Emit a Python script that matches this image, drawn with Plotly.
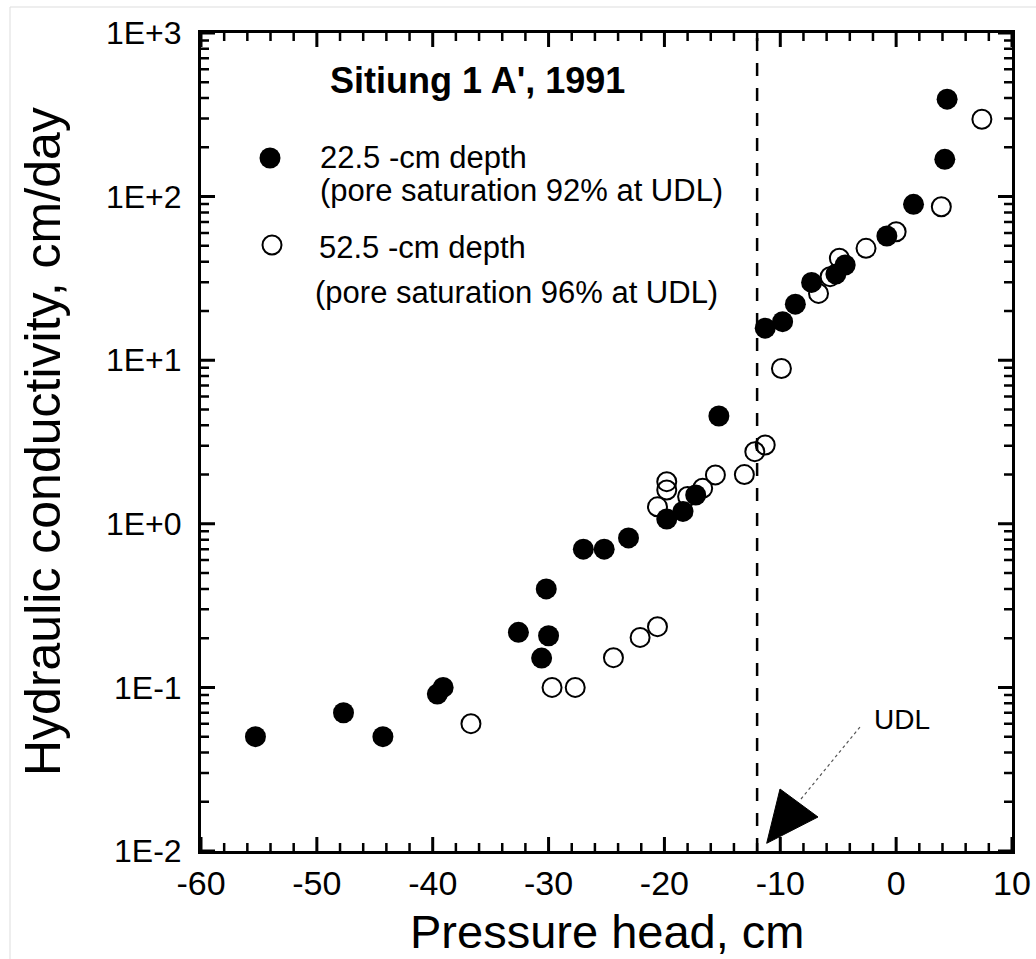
import math
import plotly.graph_objects as go

# 22.5-cm depth (filled circles)
x_225 = [-55.3, -47.7, -44.3, -39.6, -39.1, -32.6, -30.6, -30.2, -30.0, -27.0, -25.2, -23.1,
         -19.8, -18.4, -17.3, -15.3, -11.3, -9.8, -8.7, -7.3, -5.2, -4.4, -0.8, 1.5, 4.2, 4.4]
k_225 = [0.050, 0.070, 0.050, 0.091, 0.100, 0.217, 0.151, 0.40, 0.207, 0.70, 0.70, 0.82,
         1.07, 1.19, 1.50, 4.56, 15.7, 17.2, 22.0, 29.9, 33.6, 38.2, 57.4, 89.7, 169, 394]

# 52.5-cm depth (open circles)
x_525 = [-36.7, -29.7, -27.7, -24.4, -22.1, -20.6, -20.6, -19.8, -19.8, -18.0, -16.7, -15.6,
         -13.1, -12.2, -11.3, -9.9, -6.7, -5.7, -4.9, -2.6, 0.0, 3.9, 7.4]
k_525 = [0.060, 0.10, 0.10, 0.152, 0.202, 0.235, 1.27, 1.81, 1.61, 1.47, 1.65, 1.99,
         2.0, 2.76, 3.03, 8.9, 25.6, 32.4, 42.0, 48.3, 61.0, 86.7, 297]

udl_x = -12
x_ticks = [-60, -50, -40, -30, -20, -10, 0, 10]
x_ticktext = ["-60", "-50", "-40", "-30", "-20", "-10", "0", "10"]
x_minor_ticks = [v for v in range(-60, 11, 2) if v % 10 != 0]
y_ticks = [0.01, 0.1, 1, 10, 100, 1000]
y_ticktext = ["1E-2", "1E-1", "1E+0", "1E+1", "1E+2", "1E+3"]
y_minor_ticks = [m * d for d in [0.01, 0.1, 1, 10, 100] for m in range(2, 10)]

X_RANGE = [-60, 10]
Y_RANGE_LOG = [-2, 3]

FONT = "Arial, Liberation Sans, sans-serif"

W, H = 1036, 959
L, R, T, B = 201, 1012, 33, 851


def px(xp):
    return (xp - L) / (R - L)


def py(yp):
    return (B - yp) / (B - T)


def xfrac(v):
    return (v - X_RANGE[0]) / (X_RANGE[1] - X_RANGE[0])


def yfrac(v):
    return (math.log10(v) - Y_RANGE_LOG[0]) / (Y_RANGE_LOG[1] - Y_RANGE_LOG[0])


fig = go.Figure()
fig.add_trace(go.Scatter(x=x_225, y=k_225, mode="markers", name="22.5 -cm depth",
                         marker=dict(symbol="circle", size=21, color="black",
                                     line=dict(width=0)), showlegend=False))
fig.add_trace(go.Scatter(x=x_525, y=k_525, mode="markers", name="52.5 -cm depth",
                         marker=dict(symbol="circle-open", size=19, color="black",
                                     line=dict(width=2)), showlegend=False))

# tick marks (inside, on all four sides) drawn as paper-space paths
tick_paths = []
PW, PH = R - L, B - T
for vals, ln in [(x_ticks, 14), (x_minor_ticks, 8)]:
    d = ""
    for v in vals:
        f = xfrac(v)
        d += f"M{f},0 L{f},{ln / PH} M{f},1 L{f},{1 - ln / PH} "
    tick_paths.append((d, 3 if ln == 14 else 2.5))
for vals, ln in [(y_ticks, 14), (y_minor_ticks, 8)]:
    d = ""
    for v in vals:
        f = yfrac(v)
        d += f"M0,{f} L{ln / PW},{f} M1,{f} L{1 - ln / PW},{f} "
    tick_paths.append((d, 3 if ln == 14 else 2.5))

shapes = [dict(type="path", xref="paper", yref="paper", path=d.strip(),
               line=dict(color="black", width=w)) for d, w in tick_paths]

shapes += [
    dict(type="line", xref="x", yref="paper", x0=udl_x, x1=udl_x, y0=0, y1=1,
         line=dict(color="black", width=2.5, dash="13px,12px")),
    dict(type="path", xref="paper", yref="paper",
         path=f"M{px(766.7)},{py(843.3)} L{px(780)},{py(789)} L{px(818)},{py(817)} Z",
         fillcolor="black", line=dict(color="black", width=1)),
    dict(type="line", xref="paper", yref="paper", x0=px(801), y0=py(799), x1=px(860), y1=py(727),
         line=dict(color="#555", width=1.2, dash="dot")),
    # legend markers
    dict(type="circle", xref="paper", yref="paper", xsizemode="pixel", ysizemode="pixel",
         xanchor=px(270), yanchor=py(158), x0=-10.5, x1=10.5, y0=-10.5, y1=10.5,
         fillcolor="black", line=dict(color="black", width=0)),
    dict(type="circle", xref="paper", yref="paper", xsizemode="pixel", ysizemode="pixel",
         xanchor=px(272), yanchor=py(245), x0=-9.5, x1=9.5, y0=-9.5, y1=9.5,
         line=dict(color="black", width=2)),
    # faint frame of the scanned figure
    dict(type="line", xref="paper", yref="paper", x0=px(10), x1=px(10), y0=py(7), y1=py(959),
         line=dict(color="#dddddd", width=1)),
    dict(type="line", xref="paper", yref="paper", x0=px(10), x1=px(1036), y0=py(7), y1=py(7),
         line=dict(color="#dddddd", width=1)),
]

ann = [
    dict(text="<b>Sitiung 1 A', 1991</b>", x=px(477), y=py(80), xanchor="center", yanchor="middle",
         font=dict(size=36)),
    dict(text="22.5 -cm depth", x=px(318), y=py(158), xanchor="left", yanchor="middle",
         font=dict(size=31)),
    dict(text="(pore saturation 92% at UDL)", x=px(318), y=py(191), xanchor="left", yanchor="middle",
         font=dict(size=31)),
    dict(text="52.5 -cm depth", x=px(317), y=py(247), xanchor="left", yanchor="middle",
         font=dict(size=31)),
    dict(text="(pore saturation 96% at UDL)", x=px(313), y=py(292), xanchor="left", yanchor="middle",
         font=dict(size=31)),
    dict(text="UDL", x=px(902), y=py(719), xanchor="center", yanchor="middle", font=dict(size=28)),
    dict(text="Pressure head, cm", x=px(607), y=py(931), xanchor="center", yanchor="middle",
         font=dict(size=47)),
    dict(text="Hydraulic conductivity, cm/day", x=px(43), y=py(442), xanchor="center",
         yanchor="middle", textangle=-90, font=dict(size=50)),
]
for a in ann:
    a.update(xref="paper", yref="paper", showarrow=False)
    a["font"].update(family=FONT, color="black")

fig.update_layout(
    width=W, height=H,
    margin=dict(l=L, r=W - R, t=T, b=H - B, autoexpand=False),
    paper_bgcolor="white", plot_bgcolor="white",
    font=dict(family=FONT, color="black"),
    shapes=shapes, annotations=ann,
    showlegend=False,
)
fig.update_xaxes(range=X_RANGE, tickmode="array", tickvals=x_ticks, ticktext=x_ticktext,
                 ticks="", showline=True, linecolor="black", linewidth=3,
                 mirror=True, showgrid=False, zeroline=False,
                 tickfont=dict(size=34, family=FONT, color="black"))
fig.update_yaxes(type="log", range=Y_RANGE_LOG, tickmode="array", tickvals=y_ticks,
                 ticktext=y_ticktext, ticks="",
                 showline=True, linecolor="black", linewidth=3, mirror=True,
                 showgrid=False, zeroline=False, ticklabelstandoff=10,
                 tickfont=dict(size=32, family=FONT, color="black"))

fig.write_html("out.html")
